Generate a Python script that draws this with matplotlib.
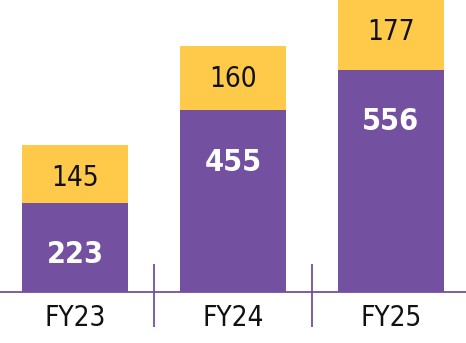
import matplotlib
matplotlib.use('Agg')
import matplotlib.pyplot as plt
import numpy as np

# Valores por ano fiscal
anos = ['FY23', 'FY24', 'FY25']
base = [223, 455, 556]
extra = [145, 160, 177]

roxo = '#7350a0'
amarelo = '#ffc94a'

plt.rcParams['font.family'] = ['DejaVu Sans']

fig = plt.figure(figsize=(4.66, 3.43), dpi=100)
ax = fig.add_axes([0, 0, 1, 1])

x = np.arange(len(anos))
ax.bar(x, base, width=0.67, color=roxo)
ax.bar(x, extra, width=0.67, bottom=base, color=amarelo)

ax.set_xlim(-0.475, 2.475)
ax.set_ylim(-127.5, 730)

# Linha de base e divisores entre os anos
ax.axhline(0, color=roxo, lw=1.3)
ax.vlines([0.5, 1.5], -87.5, 70, color=roxo, lw=1.3)

for i in range(len(anos)):
    topo = base[i] + extra[i]
    ax.annotate(str(base[i]), (x[i], base[i]), xytext=(0, -37.5),
                textcoords='offset points', ha='center', va='center',
                color='white', fontsize=22, fontweight='bold',
                fontstretch='condensed', annotation_clip=False)
    ax.annotate(str(extra[i]), (x[i], topo), xytext=(0, -24),
                textcoords='offset points', ha='center', va='center',
                color='#111111', fontsize=20, fontstretch='condensed',
                annotation_clip=False)
    ax.text(x[i], -65, anos[i], ha='center', va='center',
            color='#111111', fontsize=20, fontstretch='condensed')

ax.axis('off')
fig.savefig('out.png', dpi=100)
